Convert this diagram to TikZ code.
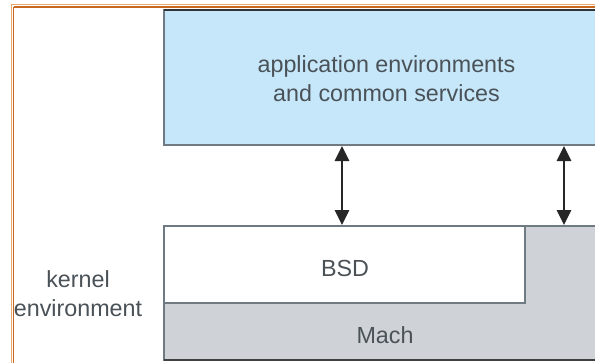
\documentclass[tikz,border=0pt]{standalone}
\usepackage{fontspec}
\setmainfont{Liberation Sans}
\usetikzlibrary{arrows.meta}
\definecolor{appblue}{HTML}{C6E7F9}
\definecolor{machgray}{HTML}{CFD3D7}
\definecolor{edgegray}{HTML}{6F7A82}
\definecolor{txtgray}{HTML}{4A5258}
\definecolor{orlight}{HTML}{EBA86E}
\definecolor{ordark}{HTML}{C8681E}
\tikzset{
  lbl/.style={font=\fontsize{23.3}{28.8}\selectfont, text=txtgray, align=center, inner sep=0pt},
  layerbox/.style={draw=edgegray, line width=1.4pt, inner sep=0pt, outer sep=0pt},
  ipc/.style={draw=black!85, line width=2.8pt, {Triangle[length=15pt,width=14pt]}-{Triangle[length=15pt,width=14pt]}, shorten <=1pt, shorten >=1pt}
}
\begin{document}
\begin{tikzpicture}[x=1pt,y=-1pt]
\useasboundingbox (0,0) rectangle (595,362);
\clip (0,0) rectangle (595,362);
\fill[white] (0,0) rectangle (595,362);
% application layer
\node[layerbox, fill=appblue, minimum width=436pt, minimum height=135pt, anchor=north west] (app) at (164,10) {};
\draw[black!80, line width=2pt] (164,10) -- (600,10);
\node[lbl] (apptxt) at (386.5,78.5) {application environments\\and common services};
% Mach (L-shaped gray region)
\path[fill=machgray, draw=edgegray, line width=1.4pt] (164,226) -- (600,226) -- (600,360) -- (164,360) -- cycle;
\draw[black!75, line width=2pt] (164,360) -- (600,360);
\coordinate (machtop) at (564,226);
\node[lbl] (mach) at (385,335) {Mach};
% BSD
\node[layerbox, fill=white, minimum width=361pt, minimum height=77pt, anchor=north west] (bsd) at (164,226) {};
\node[lbl] (bsdtxt) at (345,268.5) {BSD};
% kernel label
\node[lbl] (kern) at (78,294) {kernel\\environment};
% arrows
\coordinate (a1) at (342,0);
\draw[ipc] (app.south -| a1) -- (bsd.north -| a1);
\draw[ipc] (app.south -| machtop) -- (machtop);
% frame
\draw[orlight, line width=1.2pt] (11,4.5) -- (620,4.5);
\draw[orlight, line width=1.2pt] (11.2,4.5) -- (11.2,380);
\draw[ordark, line width=1.8pt] (13.5,7) -- (620,7);
\draw[ordark, line width=1.8pt] (13.5,7) -- (13.5,380);
\end{tikzpicture}
\end{document}
